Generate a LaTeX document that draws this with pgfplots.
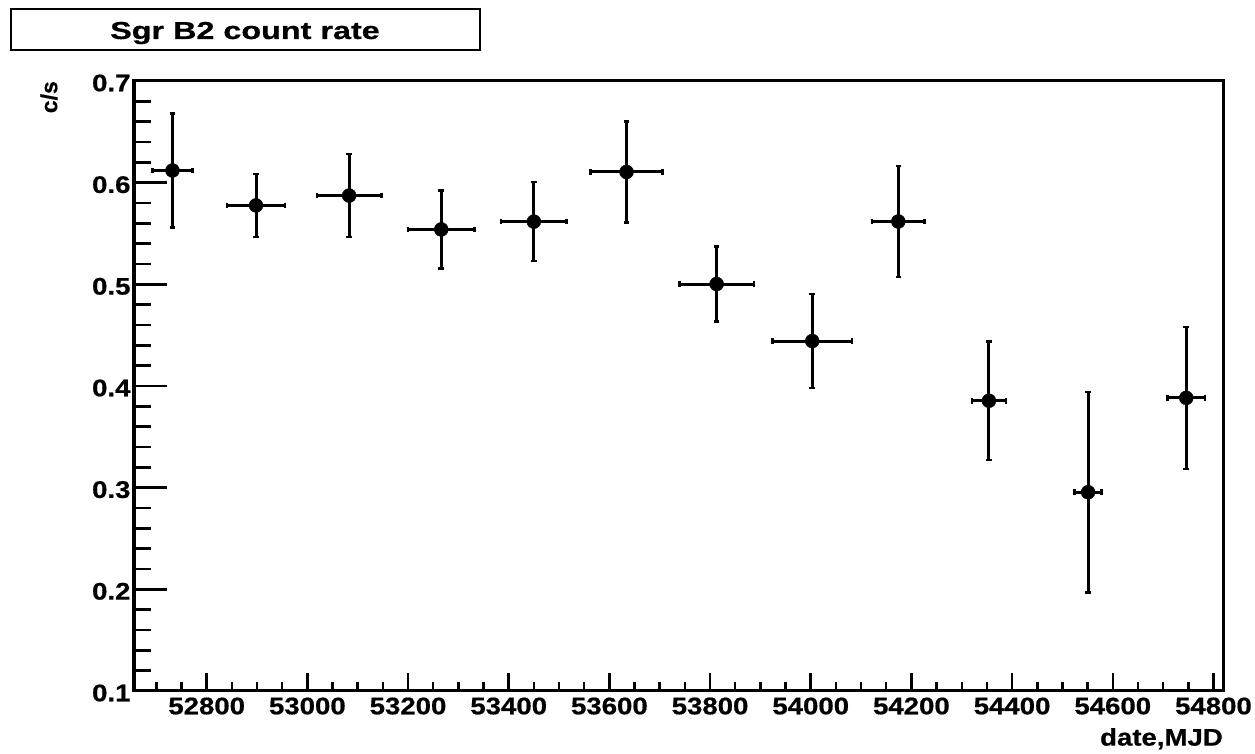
\documentclass[border=0pt]{standalone}
\usepackage{graphicx}
\usepackage{fontspec}
\setmainfont{Liberation Sans}[BoldFeatures={FakeBold=0.6}]
\usepackage{pgfplots}
\pgfplotsset{compat=1.18}
\newcommand\W[1]{\scalebox{1.15}[1]{#1}}
\newcommand\lfont{\fontsize{24}{24}\selectfont\bfseries}
\begin{document}
\begin{tikzpicture}
\pgfplotsset{
  common/.style={
    width=1089pt, height=610pt, scale only axis,
    xmin=52655.6, xmax=54819, ymin=0.1, ymax=0.7,
    tick pos=left, tick align=inside,
    axis line style={line width=3pt, black},
    every tick/.style={black, line width=2.5pt},
    scaled x ticks=false, scaled y ticks=false,
    ticklabel style={font=\lfont},
  }
}
\begin{axis}[common,
  xtick=\empty,
  ytick={0.1,0.2,0.3,0.4,0.5,0.6,0.7},
  yticklabels={\W{0.1},\W{0.2},\W{0.3},\W{0.4},\W{0.5},\W{0.6},\W{0.7}},
  minor y tick num=4,
  major tick length=33pt, minor tick length=17pt,
  yticklabel style={yshift=-2pt},
  ylabel={c/s},
  ylabel style={at={(axis description cs:-0.078,1.0)}, anchor=east, inner sep=0pt, font=\fontsize{23}{23}\selectfont\bfseries},
]
\addplot[only marks, mark=*, black, mark size=7pt,
  error bars/.cd, x dir=both, x explicit, y dir=both, y explicit,
  error bar style={line width=3pt, black},
  error mark options={rotate=90, mark size=2.8pt, line width=2.5pt, black}]
  table[x=x, y=y, x error=ex, y error=ey] {
x      y       ex   ey
52732  0.6120  40   0.0560
52898  0.5776  58   0.0310
53083  0.5873  64   0.0407
53266  0.5540  66   0.0384
53450  0.5617  65   0.0390
53634  0.6105  72   0.0499
53813  0.5003  74   0.0367
54003  0.4442  79   0.0462
54174  0.5618  52   0.0545
54354  0.3855  34   0.0585
54551  0.2955  27   0.0987
54746  0.3883  37   0.0698
};
\end{axis}
\begin{axis}[common,
  ytick=\empty,
  xtick={52800,53000,53200,53400,53600,53800,54000,54200,54400,54600,54800},
  xticklabels={\W{52800},\W{53000},\W{53200},\W{53400},\W{53600},\W{53800},\W{54000},\W{54200},\W{54400},\W{54600},\W{54800}},
  minor xtick={52700,52750,52850,52900,52950,53050,53100,53150,53250,53300,53350,53450,53500,53550,53650,53700,53750,53850,53900,53950,54050,54100,54150,54250,54300,54350,54450,54500,54550,54650,54700,54750},
  major tick length=18pt, minor tick length=9pt,
  xticklabel style={yshift=-3pt},
  xlabel={\W{date,MJD}},
  xlabel style={at={(axis description cs:1,0)}, anchor=north east, yshift=-37pt, inner sep=0pt, font=\lfont},
]
\end{axis}
\draw[line width=2.2pt] (-123pt,641pt) rectangle (346pt,682pt);
\node[anchor=base, inner sep=0pt, font=\fontsize{24.5}{24.5}\selectfont\bfseries] at (111pt,652pt) {\scalebox{1.32}[1]{Sgr B2 count rate}};
\pgfresetboundingbox
\path (-134pt,-63pt) rectangle (1121pt,691pt);
\end{tikzpicture}
\end{document}
